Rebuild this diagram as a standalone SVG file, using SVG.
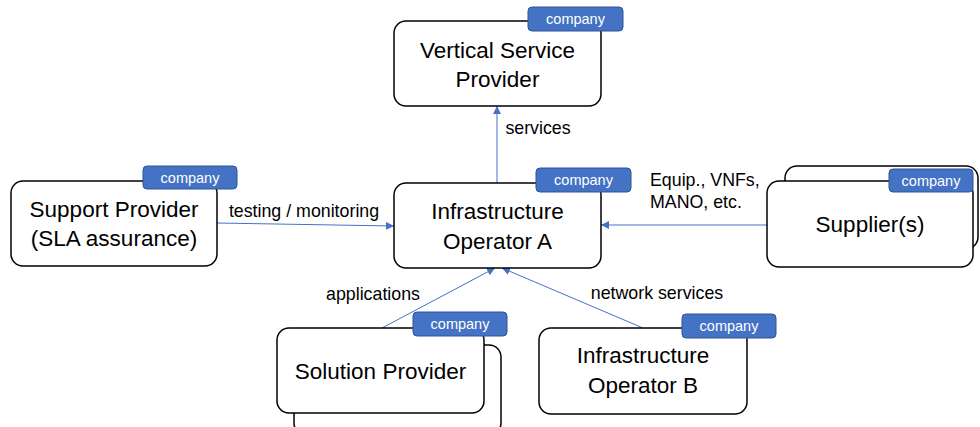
<svg xmlns="http://www.w3.org/2000/svg" width="980" height="427" viewBox="0 0 980 427">
<defs>
<marker id="arr" viewBox="0 0 10 10" refX="10" refY="5" markerWidth="8" markerHeight="8" orient="auto" markerUnits="userSpaceOnUse">
<path d="M0,0 L10,5 L0,10 z" fill="#4472C4"/>
</marker>
<style>
.box{fill:#fff;stroke:#000;stroke-width:1.5}
.tag{fill:#4472C4;stroke:#2F5597;stroke-width:1}
.tagt{font-family:"Liberation Sans",Arial,sans-serif;font-size:14.5px;fill:#fff;text-anchor:middle}
.nt{font-family:"Liberation Sans",Arial,sans-serif;font-size:22.5px;fill:#000;text-anchor:middle}
.lb{font-family:"Liberation Sans",Arial,sans-serif;font-size:17.8px;fill:#000}
.con{stroke:#4472C4;stroke-width:1;fill:none;marker-end:url(#arr)}
</style>
</defs>
<rect width="980" height="427" fill="#fff"/>
<g id="connectors">
<line class="con" x1="497" y1="183" x2="497" y2="106"/>
<line class="con" x1="217" y1="223" x2="394" y2="226"/>
<line class="con" x1="767" y1="225" x2="601" y2="225"/>
<line class="con" x1="382" y1="328" x2="495" y2="268"/>
<line class="con" x1="643" y1="328" x2="502" y2="268"/>
<text class="lb" x="538" y="134" text-anchor="middle">services</text>
<text class="lb" x="304" y="217" text-anchor="middle">testing / monitoring</text>
<text class="lb" x="650" y="186">Equip., VNFs,</text>
<text class="lb" x="650" y="208">MANO, etc.</text>
<text class="lb" x="373" y="300" text-anchor="middle">applications</text>
<text class="lb" x="657" y="299" text-anchor="middle">network services</text>
</g>
<g id="vertical-service-provider">
<rect class="box" x="394" y="21" width="207" height="85" rx="12"/>
<rect class="tag" x="528" y="7" width="95" height="24" rx="4"/>
<text class="tagt" x="575.5" y="24">company</text>
<text class="nt" x="497.5" y="58">Vertical Service</text>
<text class="nt" x="497.5" y="87">Provider</text>
</g>
<g id="support-provider">
<rect class="box" x="11" y="181" width="206" height="85" rx="12"/>
<rect class="tag" x="143" y="166" width="94" height="23" rx="4"/>
<text class="tagt" x="190" y="183">company</text>
<text class="nt" x="114" y="217">Support Provider</text>
<text class="nt" x="114" y="246">(SLA assurance)</text>
</g>
<g id="infrastructure-operator-a">
<rect class="box" x="394" y="183" width="207" height="85" rx="12"/>
<rect class="tag" x="536" y="168" width="95" height="24" rx="4"/>
<text class="tagt" x="583.5" y="185">company</text>
<text class="nt" x="497.5" y="219">Infrastructure</text>
<text class="nt" x="497.5" y="249">Operator A</text>
</g>
<g id="suppliers">
<rect class="box" x="785" y="166" width="193" height="83" rx="12"/>
<rect class="box" x="767" y="181" width="206" height="86" rx="12"/>
<rect class="tag" x="889" y="169" width="84" height="23" rx="4"/>
<text class="tagt" x="931" y="186">company</text>
<text class="nt" x="870" y="232">Supplier(s)</text>
</g>
<g id="solution-provider">
<rect class="box" x="294" y="345" width="207" height="90" rx="12"/>
<rect class="box" x="277" y="328" width="207" height="85" rx="12"/>
<rect class="tag" x="413" y="312" width="94" height="24" rx="4"/>
<text class="tagt" x="460" y="329">company</text>
<text class="nt" x="380.5" y="379">Solution Provider</text>
</g>
<g id="infrastructure-operator-b">
<rect class="box" x="539" y="328" width="208" height="86" rx="12"/>
<rect class="tag" x="682" y="314" width="94" height="24" rx="4"/>
<text class="tagt" x="729" y="331">company</text>
<text class="nt" x="643" y="363">Infrastructure</text>
<text class="nt" x="643" y="393">Operator B</text>
</g>
</svg>
